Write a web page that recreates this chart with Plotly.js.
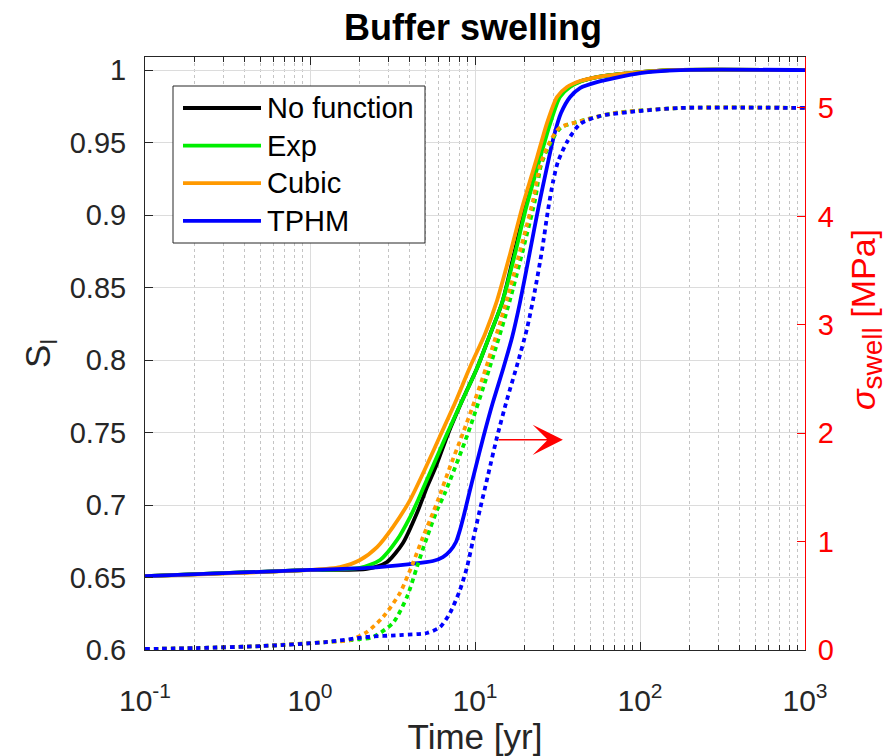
<!DOCTYPE html>
<html>
<head>
<meta charset="utf-8">
<script src="https://cdn.plot.ly/plotly-3.0.1.min.js"></script>
<style>html,body{margin:0;padding:0;background:#fff;}#chart{width:896px;height:756px;}</style>
</head>
<body>
<div id="chart"></div>
<script>
// ---- data (time in years; left axis S_l, right axis sigma_swell in MPa) ----
const seriesNames = ['No function', 'Exp', 'Cubic', 'TPHM'];
const seriesColors = ['#000000', '#00ee00', '#ff9900', '#0000ff'];

const noFuncT = [0.1, 1, 2.21, 2.93, 3.66, 4.45, 5.12, 5.81, 6.86, 8.34, 10.3, 12.3, 14.6, 17.0, 20.1, 24.4, 28.1, 32.3, 37.1, 43.9, 54.8, 100, 152, 1000];
const noFuncS = [0.651, 0.6552, 0.6559, 0.6607, 0.6738, 0.6945, 0.7124, 0.7269, 0.749, 0.7717, 0.7945, 0.8172, 0.8395, 0.8700, 0.9048, 0.9393, 0.9628, 0.9814, 0.9883, 0.9924, 0.9952, 0.9986, 1.0, 1.0];

const expT = [0.1, 1, 2.01, 2.66, 3.37, 4.04, 4.52, 4.98, 5.56, 6.76, 8.34, 10.3, 12.3, 14.6, 17.2, 20.4, 24.8, 28.5, 32.7, 37.7, 44.5, 54.8, 100, 152, 1000];
const expS = [0.651, 0.6552, 0.6566, 0.6621, 0.6759, 0.6917, 0.7034, 0.7145, 0.7269, 0.749, 0.7717, 0.7945, 0.8172, 0.8395, 0.8700, 0.9048, 0.9393, 0.9628, 0.9814, 0.9883, 0.9924, 0.9952, 0.9986, 1.0, 1.0];

const cubicT = [0.1, 1, 1.52, 2.01, 2.55, 3.18, 4.04, 4.98, 6.14, 7.56, 9.33, 11.5, 13.6, 16.3, 19.5, 23.8, 27.3, 31.4, 36.1, 43.3, 54.8, 100, 152, 1000];
const cubicS = [0.651, 0.6552, 0.6572, 0.6621, 0.671, 0.6848, 0.7034, 0.7248, 0.7476, 0.7703, 0.7952, 0.8180, 0.8410, 0.8730, 0.9069, 0.94, 0.9634, 0.9814, 0.9883, 0.9924, 0.9952, 0.9986, 1.0, 1.0];

const tphmT = [0.1, 1, 2.21, 4.04, 5.56, 6.39, 7.05, 7.67, 8.11, 8.57, 9.2, 10, 11.2, 12.8, 14.8, 16.8, 18.7, 21.5, 24.4, 27.3, 30.1, 33.2, 37.7, 43.3, 54.8, 100, 175, 1000];
const tphmS = [0.651, 0.6552, 0.6566, 0.6593, 0.6614, 0.6641, 0.6683, 0.6745, 0.6828, 0.6931, 0.7076, 0.7241, 0.7462, 0.7703, 0.7938, 0.8159, 0.8393, 0.8745, 0.9069, 0.9331, 0.9545, 0.9703, 0.9814, 0.9876, 0.9917, 0.9979, 1.0, 1.0];

const expSigT = [0.1, 0.206, 0.519, 1.27, 2.01, 2.41, 3.18, 3.87, 4.45, 5.12, 5.89, 6.58, 9.07, 12.3, 16.3, 23.1, 25.1, 28.9, 33.2, 41.5, 68.5, 175, 1000];
const expSig = [0.009, 0.018, 0.037, 0.074, 0.1, 0.12, 0.249, 0.489, 0.766, 1.042, 1.29, 1.45, 2.0, 2.61, 3.23, 4.15, 4.47, 4.69, 4.82, 4.87, 4.95, 5.0, 5.0];

const cubicSigT = [0.1, 0.206, 0.519, 1.27, 1.75, 2.21, 2.77, 3.51, 4.21, 4.84, 5.56, 5.97, 7.05, 8.45, 10, 11.7, 15.6, 22.5, 24.8, 28.5, 32.7, 41.5, 68.5, 175, 1000];
const cubicSig = [0.009, 0.018, 0.037, 0.074, 0.092, 0.166, 0.304, 0.526, 0.803, 1.042, 1.264, 1.384, 1.688, 2.0, 2.306, 2.61, 3.23, 4.15, 4.47, 4.69, 4.82, 4.87, 4.95, 5.0, 5.0];

const tphmSigT = [0.1, 0.206, 0.519, 1.27, 2.21, 3.51, 5.12, 6.14, 7.05, 8.11, 8.95, 9.73, 10.7, 12.0, 13.6, 15.6, 18.0, 20.7, 23.1, 25.5, 27.7, 29.7, 31.8, 36.1, 43.3, 57.3, 100, 175, 1000];
const tphmSig = [0.009, 0.018, 0.037, 0.074, 0.12, 0.138, 0.157, 0.212, 0.341, 0.554, 0.766, 1.015, 1.292, 1.614, 1.965, 2.306, 2.629, 2.97, 3.321, 3.69, 4.059, 4.317, 4.502, 4.686, 4.852, 4.926, 4.972, 5.0, 5.0];

// x tick labels (decades)
const xTickVals = [0.1, 1, 10, 100, 1000];
const xTickText = ['10<sup>-1</sup>', '10<sup>0</sup>', '10<sup>1</sup>', '10<sup>2</sup>', '10<sup>3</sup>'];

// arrow pointing to right axis (time in yr, S_l level)
const arrowTail = [13.6, 0.745];
const arrowHead = [34.1, 0.745];

// ---- traces ----
const FONT = 'Liberation Sans, Arial, Helvetica, sans-serif';
const solidSets = [[noFuncT, noFuncS], [expT, expS], [cubicT, cubicS], [tphmT, tphmS]];
const dottedSets = [null, [expSigT, expSig], [cubicSigT, cubicSig], [tphmSigT, tphmSig]];

const traces = [];
solidSets.forEach((d, i) => {
  traces.push({
    x: d[0], y: d[1], type: 'scatter', mode: 'lines', name: seriesNames[i],
    line: {color: seriesColors[i], width: 3.8, shape: 'spline', smoothing: 0.7},
    yaxis: 'y', showlegend: false, hoverinfo: 'skip'
  });
});
dottedSets.forEach((d, i) => {
  if (!d) return;
  traces.push({
    x: d[0], y: d[1], type: 'scatter', mode: 'lines', name: seriesNames[i] + ' σ',
    line: {color: seriesColors[i], width: 3.8, dash: '4.5px,4px', shape: 'spline', smoothing: 0.7},
    yaxis: 'y2', showlegend: false, hoverinfo: 'skip'
  });
});

// minor tick positions on the log axis (2..9 per decade)
const minorVals = [];
[0.1, 1, 10, 100].forEach(d => { for (let k = 2; k <= 9; k++) minorVals.push(d * k); });

// ---- custom legend (MATLAB style, long line samples) ----
const px2x = p => (p - 145) / 660;
const px2y = p => (650 - p) / 593;
const shapes = [{
  type: 'rect', xref: 'paper', yref: 'paper',
  x0: px2x(173), x1: px2x(425), y0: px2y(243), y1: px2y(86),
  line: {color: '#262626', width: 1}, fillcolor: '#ffffff', layer: 'above'
}];
const annotations = [];
seriesNames.forEach((nm, i) => {
  const yy = px2y(108 + i * 37.6);
  shapes.push({
    type: 'line', xref: 'paper', yref: 'paper',
    x0: px2x(183), x1: px2x(261), y0: yy, y1: yy,
    line: {color: seriesColors[i], width: 3.8}, layer: 'above'
  });
  annotations.push({
    xref: 'paper', yref: 'paper', x: px2x(265), y: yy, xanchor: 'left', yanchor: 'middle',
    text: nm, showarrow: false, font: {family: FONT, size: 29, color: '#000'}
  });
});
annotations.push({
  xref: 'x', yref: 'y', axref: 'x', ayref: 'y',
  x: Math.log10(arrowHead[0]), y: arrowHead[1],
  ax: Math.log10(arrowTail[0]), ay: arrowTail[1],
  text: '', showarrow: true, arrowhead: 3, arrowsize: 3.6, arrowwidth: 1.4, arrowcolor: '#ff0000'
});
// right-axis title (placed as in the reference, slightly above centre)
annotations.push({
  xref: 'paper', yref: 'paper', x: px2x(866), y: px2y(320), xanchor: 'center', yanchor: 'middle',
  textangle: -90, showarrow: false,
  text: '<i>σ</i><sub><span style="font-size:28px">swell</span></sub> [MPa]',
  font: {family: FONT, size: 34, color: '#ff0000'}
});

const layout = {
  width: 896, height: 756,
  margin: {l: 145, r: 91, t: 57, b: 106, pad: 0},
  paper_bgcolor: '#ffffff', plot_bgcolor: '#ffffff',
  font: {family: FONT, color: '#262626'},
  title: {text: '<b>Buffer swelling</b>', font: {family: FONT, size: 36, color: '#000'},
          x: 0.528, xref: 'container', y: 1 - 27 / 756, yref: 'container', yanchor: 'middle'},
  xaxis: {
    type: 'log', range: [-1, 3], tickmode: 'array', tickvals: xTickVals, ticktext: xTickText,
    tickfont: {size: 30, color: '#262626'}, ticklabelstandoff: 24,
    ticks: 'inside', ticklen: 8, tickcolor: '#262626', tickwidth: 1,
    showline: true, linecolor: '#262626', linewidth: 1, mirror: 'ticks',
    showgrid: true, gridcolor: '#dcdcdc', gridwidth: 1, zeroline: false,
    minor: {tickmode: 'array', tickvals: minorVals, ticks: 'inside', ticklen: 5, tickcolor: '#262626',
            showgrid: true, gridcolor: '#c4c4c4', griddash: 'dot', gridwidth: 1},
    title: {text: 'Time [yr]', font: {size: 35, color: '#262626'}, standoff: 6}
  },
  yaxis: {
    range: [0.6, 1.009], tick0: 0.6, dtick: 0.05,
    tickfont: {size: 29, color: '#262626'},
    ticks: 'inside', ticklen: 8, tickcolor: '#262626',
    showline: true, linecolor: '#262626', linewidth: 1, mirror: false,
    showgrid: true, gridcolor: '#dcdcdc', gridwidth: 1, zeroline: false,
    ticklabelstandoff: 12,
    title: {text: 'S<sub>l</sub>', font: {size: 35, color: '#262626'}, standoff: 8}
  },
  yaxis2: {
    overlaying: 'y', side: 'right', range: [0, 5.47], tick0: 0, dtick: 1,
    tickfont: {size: 29, color: '#ff0000'},
    ticks: 'inside', ticklen: 8, tickcolor: '#ff0000',
    showline: true, linecolor: '#ff0000', linewidth: 1,
    showgrid: false, zeroline: false, ticklabelstandoff: 6
  },
  shapes: shapes,
  annotations: annotations,
  showlegend: false
};

Plotly.newPlot('chart', traces, layout, {staticPlot: true, displayModeBar: false});
</script>
</body>
</html>
